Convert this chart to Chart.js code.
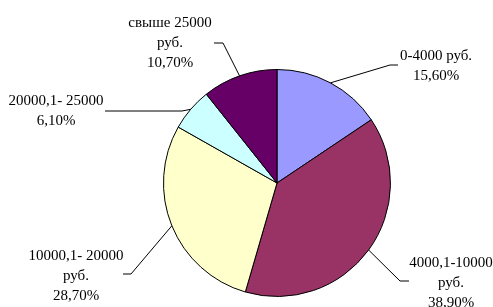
<!DOCTYPE html>
<html>
<head>
<meta charset="utf-8">
<script src="https://cdn.jsdelivr.net/npm/chart.js@4/dist/chart.umd.min.js"></script>
<style>
  html, body { margin: 0; padding: 0; background: #fff; }
  #wrap { width: 493px; height: 307px; }
</style>
</head>
<body>
<div id="wrap"><canvas id="myChart"></canvas></div>
<script>
const categories = [
    ['0-4000 руб.'],
    ['4000,1-10000', 'руб.'],
    ['10000,1- 20000', 'руб.'],
    ['20000,1- 25000'],
    ['свыше 25000', 'руб.']
]
const shares = [15.6, 38.9, 28.7, 6.1, 10.7]
const colors = ['#9999FF', '#993366', '#FFFFCC', '#CCFFFF', '#660066']

// where each label sits and how its leader line bends (canvas px)
const labelPos = [
    { cx: 436, y: 56, elbow: [390, 65], end: [398, 65] },
    { cx: 451, y: 263, elbow: [400, 281], end: [409, 281] },
    { cx: 76, y: 256, elbow: [131, 274], end: [123, 274] },
    { cx: 56, y: 101, elbow: [182, 111], end: [105, 111] },
    { cx: 170, y: 23, elbow: [223, 43], end: [214, 43] }
]

function pct(v) {
    return v.toFixed(2).replace('.', ',') + '%'
}

const leaderLabels = {
    id: 'leaderLabels',
    afterDatasetsDraw(chart) {
        const ctx = chart.ctx
        const meta = chart.getDatasetMeta(0)
        ctx.save()
        ctx.strokeStyle = '#000'
        ctx.lineWidth = 1
        ctx.fillStyle = '#000'
        ctx.font = '15px "DejaVu Serif"'
        ctx.font = '15px "Liberation Serif"'
        ctx.textAlign = 'center'
        ctx.textBaseline = 'middle'
        meta.data.forEach((arc, i) => {
            const p = arc.getProps(['x', 'y', 'startAngle', 'endAngle', 'outerRadius'], true)
            const mid = (p.startAngle + p.endAngle) / 2
            const ax = p.x + Math.cos(mid) * p.outerRadius
            const ay = p.y + Math.sin(mid) * p.outerRadius
            const pos = labelPos[i]
            ctx.beginPath()
            ctx.moveTo(ax, ay)
            ctx.lineTo(pos.elbow[0], pos.elbow[1])
            ctx.lineTo(pos.end[0], pos.end[1])
            ctx.stroke()
            const lines = categories[i].concat([pct(shares[i])])
            lines.forEach((t, k) => {
                ctx.fillText(t, pos.cx, pos.y + k * 20)
            })
        })
        ctx.restore()
    }
}

const cfg = {
    type: 'pie',
    data: {
        labels: categories.map(c => c.join(' ')),
        datasets: [{
            data: shares,
            backgroundColor: colors,
            borderColor: '#000',
            borderWidth: 1,
            hoverOffset: 0
        }]
    },
    options: {
        responsive: true,
        maintainAspectRatio: false,
        animation: false,
        layout: {
            padding: { left: 100, right: 39, top: 69, bottom: 10 }
        },
        plugins: {
            legend: { display: false },
            tooltip: { enabled: false }
        }
    },
    plugins: [leaderLabels]
}

const ctx = document.getElementById('myChart').getContext('2d')
const myChart = new Chart(ctx, cfg)
</script>
</body>
</html>
